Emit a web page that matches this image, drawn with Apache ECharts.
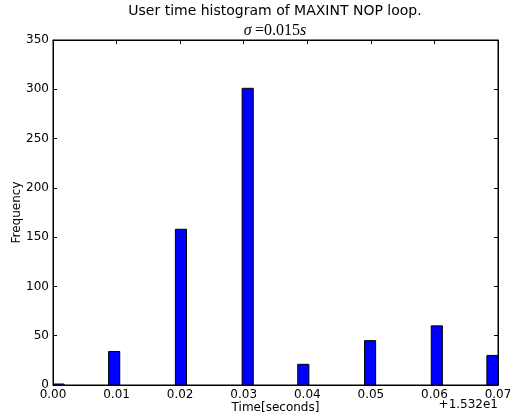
<!DOCTYPE html>
<html>
<head>
<meta charset="utf-8">
<script src="https://cdn.jsdelivr.net/npm/echarts@6/dist/echarts.min.js"></script>
<style>html,body{margin:0;padding:0;background:#fff;}#c{width:510px;height:418px;}</style>
</head>
<body>
<div id="c"></div>
<script>
// Histogram bins (offset from 15.32 s), 40 bins across 0..0.07
var binWidth = 0.00175;
var binStarts = [0.0, 0.00875, 0.01925, 0.02975, 0.0385, 0.049, 0.0595, 0.06825];
var counts = [1, 34, 158, 301, 21, 45, 60, 30];
var xTicks = [0.00, 0.01, 0.02, 0.03, 0.04, 0.05, 0.06, 0.07];
var yTicks = [0, 50, 100, 150, 200, 250, 300, 350];

var data = binStarts.map(function (s, i) { return [s, s + binWidth, counts[i]]; });
var font = 'DejaVu Sans';
var chart = echarts.init(document.getElementById('c'), null, {renderer: 'canvas'});
var axisCommon = {
  axisLine: {show: true, onZero: false, lineStyle: {color: '#000', width: 1}},
  axisTick: {show: true, inside: true, length: 4, lineStyle: {color: '#000'}},
  splitLine: {show: false}
};
chart.setOption({
  animation: false,
  backgroundColor: '#fff',
  graphic: [
    {type: 'text', x: 275, y: 4, style: {text: 'User time histogram of MAXINT NOP loop.', align: 'center', verticalAlign: 'top',
      font: '14px "DejaVu Sans"', fill: '#000'}},
    {type: 'text', x: 275, y: 23, style: {text: '{i|σ} {n|=0.015}{i|s}', align: 'center', verticalAlign: 'top',
      rich: {
        i: {fontFamily: 'Liberation Serif', fontSize: 16, fontStyle: 'italic', fontWeight: 'normal', fill: '#000'},
        n: {fontFamily: 'Liberation Serif', fontSize: 16, fontStyle: 'normal', fontWeight: 'normal', fill: '#000'}
      }}},
    {type: 'text', right: 12, top: 399, style: {text: '+1.532e1', font: '12px "DejaVu Sans"', fill: '#000'}}
  ],
  grid: {left: 53, right: 12, top: 40, bottom: 33, containLabel: false, outerBoundsMode: 'none',
         show: true, borderColor: '#000', borderWidth: 1, backgroundColor: '#fff'},
  xAxis: [
    Object.assign({}, axisCommon, {
      type: 'value', min: 0, max: 0.07, interval: 0.01, position: 'bottom',
      name: 'Time[seconds]', nameLocation: 'middle', nameGap: 17, nameMoveOverlap: false,
      nameTextStyle: {fontFamily: font, fontSize: 12, color: '#000'},
      axisLabel: {fontFamily: font, fontSize: 12, color: '#000', margin: 4,
        formatter: function (v) { return v.toFixed(2); }}
    }),
    Object.assign({}, axisCommon, {
      type: 'value', min: 0, max: 0.07, interval: 0.01, position: 'top',
      axisLabel: {show: false}
    })
  ],
  yAxis: [
    Object.assign({}, axisCommon, {
      type: 'value', min: 0, max: 350, interval: 50, position: 'left',
      name: 'Frequency', nameLocation: 'middle', nameGap: 30, nameRotate: 90, nameMoveOverlap: false,
      nameTextStyle: {fontFamily: font, fontSize: 12, color: '#000'},
      axisLabel: {fontFamily: font, fontSize: 12, color: '#000', margin: 4}
    }),
    Object.assign({}, axisCommon, {
      type: 'value', min: 0, max: 350, interval: 50, position: 'right',
      axisLabel: {show: false}
    })
  ],
  series: [{
    type: 'custom',
    xAxisIndex: 0, yAxisIndex: 0,
    clip: true,
    data: data,
    encode: {x: [0, 1], y: 2},
    renderItem: function (params, api) {
      var p0 = api.coord([api.value(0), api.value(2)]);
      var p1 = api.coord([api.value(1), 0]);
      return {
        type: 'rect',
        shape: {x: p0[0], y: p0[1], width: p1[0] - p0[0], height: p1[1] - p0[1]},
        style: {fill: '#0000ff', stroke: '#000', lineWidth: 1}
      };
    }
  }]
});
</script>
</body>
</html>
